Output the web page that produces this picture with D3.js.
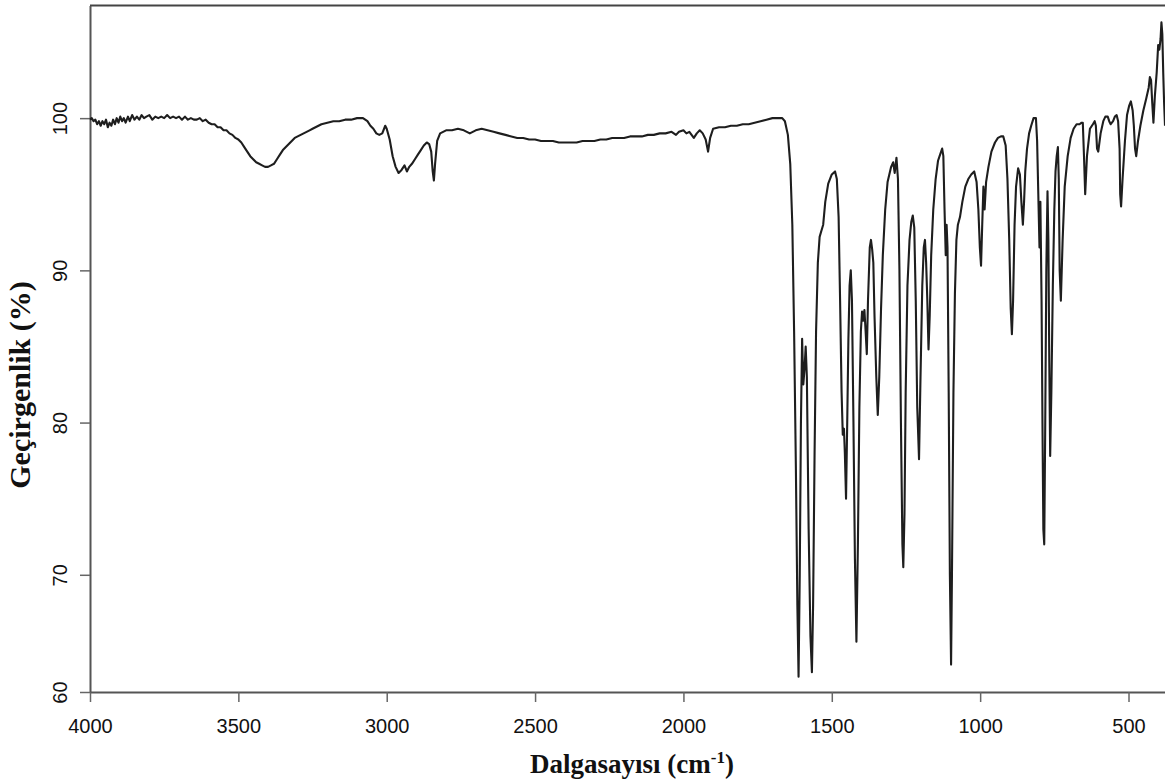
<!DOCTYPE html>
<html>
<head>
  <meta charset="utf-8">
  <title>FTIR</title>
  <script src="https://d3js.org/d3.v7.min.js"></script>
  <style>
    body { margin: 0; background: #fff; }
  </style>
</head>
<body>
  <div id="my_dataviz"></div>
  <script>

    // spectrum: wavenumber (cm-1) and transmittance (%)
    var wavenumber = [
      4000, 3994, 3988, 3982, 3976, 3970, 3964, 3958, 3952, 3946, 3940, 3934, 3928, 3922, 3916, 3910,
      3904, 3898, 3892, 3886, 3880, 3872, 3866, 3858, 3850, 3842, 3834, 3826, 3818, 3810, 3800, 3790,
      3780, 3770, 3760, 3750, 3740, 3730, 3720, 3710, 3700, 3690, 3680, 3670, 3660, 3650, 3640, 3630,
      3620, 3610, 3600, 3590, 3580, 3570, 3560, 3550, 3540, 3530, 3520, 3510, 3500, 3490, 3480, 3470,
      3460, 3450, 3440, 3430, 3420, 3410, 3400, 3390, 3380, 3370, 3360, 3350, 3340, 3330, 3320, 3310,
      3300, 3290, 3280, 3270, 3260, 3250, 3240, 3230, 3220, 3200, 3180, 3160, 3140, 3120, 3100, 3080,
      3065, 3055, 3045, 3035, 3025, 3015, 3005, 3000, 2990, 2980, 2970, 2960, 2950, 2940, 2932, 2924,
      2915, 2905, 2895, 2885, 2875, 2865, 2857, 2850, 2845, 2841, 2837, 2830, 2820, 2800, 2780, 2760,
      2740, 2720, 2700, 2680, 2660, 2640, 2620, 2600, 2580, 2560, 2540, 2520, 2500, 2480, 2460, 2440,
      2420, 2400, 2380, 2360, 2340, 2320, 2300, 2280, 2260, 2240, 2220, 2200, 2180, 2160, 2140, 2120,
      2100, 2080, 2060, 2040, 2025, 2015, 2000, 1990, 1980, 1965, 1955, 1945, 1935, 1925, 1917, 1910,
      1900, 1880, 1860, 1840, 1820, 1800, 1780, 1760, 1740, 1720, 1700, 1680, 1667, 1658, 1648, 1640,
      1633, 1627, 1621, 1616, 1612, 1608, 1604, 1600, 1596, 1592, 1588, 1584, 1578, 1572, 1567, 1563,
      1558, 1553, 1547, 1541, 1535, 1529, 1522, 1512, 1500, 1489, 1483, 1477, 1472, 1467, 1463, 1459,
      1456, 1452, 1448, 1444, 1440, 1436, 1432, 1427, 1422, 1417, 1412, 1407, 1402, 1398, 1394, 1390,
      1386, 1382, 1378, 1372, 1368, 1364, 1360, 1356, 1350, 1345, 1340, 1334, 1328, 1320, 1312, 1300,
      1293, 1288, 1282, 1277, 1272, 1267, 1262, 1259, 1255, 1251, 1245, 1238, 1232, 1227, 1222, 1217,
      1212, 1206, 1201, 1195, 1190, 1186, 1182, 1178, 1174, 1170, 1165, 1158, 1150, 1142, 1135, 1128,
      1124, 1120, 1116, 1113, 1110, 1106, 1102, 1098, 1095, 1090, 1085, 1080, 1075, 1068, 1060, 1050,
      1040, 1030, 1020, 1012, 1006, 1001, 997, 993, 989, 985, 980, 972, 962, 950, 940, 930,
      922, 914, 908, 902, 897, 893, 889, 884, 879, 872, 866, 861, 856, 852, 848, 842,
      835, 828, 820, 812, 808, 804, 800, 797, 793, 790, 787, 784, 781, 777, 773, 770,
      767, 764, 760, 755, 750, 746, 742, 738, 735, 732, 728, 722, 715, 705, 695, 685,
      675, 665, 658, 654, 650, 646, 640, 630, 620, 614, 610, 606, 602, 594, 585, 578,
      570, 565, 560, 552, 546, 540, 535, 530, 528, 525, 520, 512, 505, 498, 492, 486,
      482, 478, 474, 468, 460, 450, 440, 432, 428, 424, 420, 416, 411, 405, 400, 396,
      392, 389, 386, 383, 380, 377
    ];
    var transmittance = [
      99.9, 100.0, 99.8, 99.9, 99.6, 99.8, 99.5, 99.8, 99.6, 99.9, 99.4, 99.7, 99.5, 99.9, 99.6, 100.0,
      99.7, 100.1, 99.8, 100.0, 99.7, 100.1, 99.8, 100.2, 99.9, 100.1, 99.9, 100.2, 100.0, 100.1, 100.2, 99.9,
      100.1, 100.0, 100.1, 100.0, 100.2, 100.0, 100.1, 100.0, 100.1, 99.9, 100.1, 99.9, 100.0, 99.9, 99.9, 100.0,
      99.8, 99.9, 99.7, 99.6, 99.6, 99.4, 99.4, 99.2, 99.2, 99.0, 98.9, 98.7, 98.6, 98.4, 98.1, 97.8,
      97.5, 97.3, 97.1, 97.0, 96.9, 96.8, 96.8, 96.9, 97.0, 97.3, 97.6, 97.9, 98.1, 98.3, 98.5, 98.7,
      98.8, 98.9, 99.0, 99.1, 99.2, 99.3, 99.4, 99.5, 99.6, 99.7, 99.8, 99.8, 99.9, 99.9, 100.0, 100.0,
      99.8, 99.5, 99.3, 99.0, 98.9, 99.0, 99.5, 99.3, 98.6, 97.5, 96.8, 96.4, 96.6, 96.9, 96.5, 96.8,
      97.0, 97.3, 97.6, 97.9, 98.2, 98.4, 98.3, 97.8, 96.5, 95.9, 97.0, 98.5, 99.0, 99.2, 99.2, 99.3,
      99.2, 99.0, 99.2, 99.3, 99.2, 99.1, 99.0, 98.9, 98.8, 98.7, 98.7, 98.6, 98.6, 98.5, 98.5, 98.5,
      98.4, 98.4, 98.4, 98.4, 98.5, 98.5, 98.5, 98.6, 98.6, 98.7, 98.7, 98.7, 98.8, 98.8, 98.8, 98.9,
      98.9, 99.0, 99.0, 99.1, 98.9, 99.1, 99.2, 99.0, 99.1, 98.7, 99.0, 99.2, 99.0, 98.6, 97.8, 98.7,
      99.3, 99.4, 99.4, 99.5, 99.5, 99.6, 99.6, 99.7, 99.8, 99.9, 100.0, 100.0, 100.0, 99.8, 98.9, 97.0,
      93.0, 86.0, 77.0, 68.0, 63.3, 70.0, 80.0, 85.5, 82.5, 83.5, 85.0, 83.0, 73.0, 66.0, 63.6, 68.0,
      78.0, 86.0, 90.5, 92.2, 92.6, 93.0, 94.5, 95.7, 96.3, 96.5, 96.0, 93.5, 88.0, 82.0, 79.2, 79.6,
      78.0, 75.0, 80.0, 85.5, 89.0, 90.0, 88.0, 80.0, 71.0, 65.6, 72.0, 81.0, 86.0, 87.3, 86.7, 87.4,
      86.0, 84.5, 88.0, 91.5, 92.0, 91.4, 90.5, 87.0, 83.0, 80.5, 83.0, 87.5, 91.0, 94.0, 95.8, 96.8,
      97.1, 96.4, 97.4, 96.0, 90.0, 80.0, 72.0, 70.5, 74.0, 82.0, 89.0, 92.0, 93.2, 93.6, 92.8, 88.0,
      81.0, 77.6, 83.0, 89.0, 91.5, 92.0, 90.5, 88.0, 84.8, 87.0, 91.0, 94.0, 96.0, 97.2, 97.6, 98.0,
      97.5, 94.0, 91.0, 93.0, 91.5, 82.0, 70.0, 64.1, 70.0, 82.0, 88.5, 92.0, 93.0, 93.5, 94.5, 95.5,
      96.0, 96.3, 96.5, 95.8, 94.0, 91.5, 90.3, 93.0, 95.5, 94.0, 95.8, 96.8, 97.8, 98.4, 98.7, 98.8,
      98.8, 98.2, 96.0, 92.0, 87.5, 85.8, 88.0, 93.0, 95.5, 96.7, 96.3, 94.5, 93.0, 94.5, 96.5, 98.0,
      99.0, 99.5, 100.0, 100.0, 98.5, 95.0, 91.5, 94.5, 88.0, 80.0, 73.0, 72.0, 79.0, 90.0, 95.2, 92.0,
      84.0, 77.8, 82.0, 89.0, 94.0, 96.5, 97.5, 98.1, 96.0, 90.0, 88.0, 92.0, 95.5, 97.5, 98.7, 99.3,
      99.6, 99.6, 99.7, 99.7, 97.5, 95.0, 97.5, 99.3, 99.6, 99.8, 99.5, 98.0, 97.8, 99.0, 99.8, 100.1,
      100.1, 99.8, 99.6, 99.8, 100.1, 100.2, 99.8, 98.0, 95.0, 94.2, 96.0, 98.5, 100.2, 100.8, 101.1, 100.5,
      99.5, 98.0, 97.5, 98.5, 99.5, 100.5, 101.3, 102.0, 102.7, 102.5, 101.0, 99.7, 101.5, 103.0, 104.8, 104.5,
      105.2, 106.3, 105.5, 103.0, 101.0, 99.5, 98.2
    ];

    // axis ticks
    var xTicks = [4000, 3500, 3000, 2500, 2000, 1500, 1000, 500];
    var yTicks = [100, 90, 80, 70];
    var yBottomLabel = "60";

    var data = wavenumber.map(function (w, i) { return { w: w, t: transmittance[i] }; });

    var width = 1165, height = 783;
    var margin = { left: 90, right: 1165, top: 5.5, bottom: 692 };
    var yMin = 62.3, yMax = 107.4;

    var svg = d3.select("#my_dataviz")
      .append("svg")
      .attr("width", width)
      .attr("height", height)
      .style("background", "#fff");

    var x = d3.scaleLinear().domain([4000, 377]).range([margin.left, margin.right]);
    var y = d3.scaleLinear().domain([yMin, yMax]).range([margin.bottom, margin.top]);

    // top frame line
    svg.append("line")
      .attr("x1", margin.left).attr("x2", margin.right)
      .attr("y1", margin.top).attr("y2", margin.top)
      .attr("stroke", "#444").attr("stroke-width", 2);

    // X axis
    var xAxis = svg.append("g")
      .attr("transform", "translate(0," + margin.bottom + ")")
      .call(d3.axisBottom(x).tickValues(xTicks).tickSize(10).tickSizeOuter(0).tickFormat(d3.format("d")));
    xAxis.select(".domain").attr("stroke", "#555").attr("stroke-width", 2);
    xAxis.selectAll(".tick line").attr("stroke", "#666").attr("stroke-width", 1.5);
    xAxis.selectAll(".tick text")
      .attr("y", 41).attr("dy", 0)
      .style("font-family", "'Liberation Sans', Arial, sans-serif")
      .style("font-size", "20px")
      .attr("fill", "#111");

    // Y axis (bottom tick sits on the x axis and is labelled 60)
    var yAxis = svg.append("g")
      .attr("transform", "translate(" + margin.left + ",0)")
      .call(d3.axisLeft(y).tickValues(yTicks.concat([yMin])).tickSize(10).tickSizeOuter(0)
        .tickFormat(function (d) { return d === yMin ? yBottomLabel : d; }));
    yAxis.select(".domain").attr("stroke", "#555").attr("stroke-width", 2);
    yAxis.selectAll(".tick line").attr("stroke", "#666").attr("stroke-width", 1.5);
    yAxis.selectAll(".tick text")
      .attr("x", 0).attr("dy", 0)
      .attr("transform", "translate(-23,0) rotate(-90)")
      .attr("text-anchor", "middle")
      .style("font-family", "'Liberation Sans', Arial, sans-serif")
      .style("font-size", "20px")
      .attr("fill", "#111");

    // spectrum
    var line = d3.line()
      .x(function (d) { return x(d.w); })
      .y(function (d) { return y(d.t); });

    svg.append("path")
      .datum(data)
      .attr("d", line)
      .attr("fill", "none")
      .attr("stroke", "#1e1e1e")
      .attr("stroke-width", 2.1)
      .attr("stroke-linejoin", "round");

    // axis titles
    var xLabel = svg.append("text")
      .attr("x", 632).attr("y", 773)
      .attr("text-anchor", "middle")
      .style("font-family", "'Liberation Serif', 'Times New Roman', serif")
      .style("font-weight", "bold")
      .style("font-size", "27px")
      .attr("fill", "#111");
    xLabel.append("tspan").text("Dalgasayısı (cm");
    xLabel.append("tspan").attr("dy", -10).style("font-size", "17px").text("-1");
    xLabel.append("tspan").attr("dy", 10).text(")");

    svg.append("text")
      .attr("transform", "translate(30,385) rotate(-90)")
      .attr("text-anchor", "middle")
      .style("font-family", "'Liberation Serif', 'Times New Roman', serif")
      .style("font-weight", "bold")
      .style("font-size", "30px")
      .attr("fill", "#111")
      .text("Geçirgenlik (%)");

  </script>
</body>
</html>
